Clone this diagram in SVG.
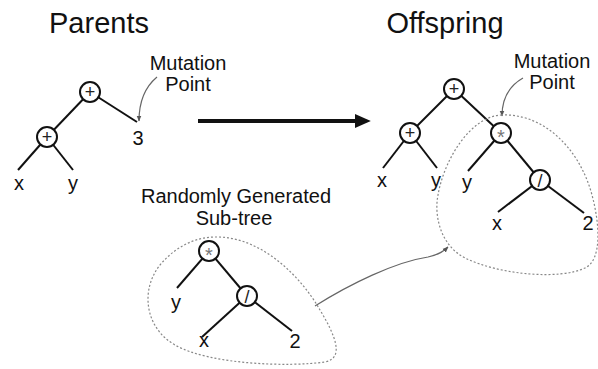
<svg xmlns="http://www.w3.org/2000/svg" width="598" height="369" viewBox="0 0 598 369">
  <defs>
    <style>
      .title { font-family: "Liberation Sans", Arial, sans-serif; font-size: 29px; fill: #111; text-anchor: middle; }
      .label { font-family: "Liberation Sans", Arial, sans-serif; font-size: 20px; fill: #111; text-anchor: middle; }
      .sym { font-family: "Liberation Sans", Arial, sans-serif; font-size: 18px; fill: #222; text-anchor: middle; }
      .star { font-family: "Liberation Sans", Arial, sans-serif; font-size: 20px; fill: #777; text-anchor: middle; }
      .edge { stroke: #111; stroke-width: 2; fill: none; }
      .node { fill: #fff; stroke: #111; stroke-width: 2; }
      .hull { fill: none; stroke: #888; stroke-width: 1.2; stroke-dasharray: 2 2; }
      .pointer { fill: none; stroke: #666; stroke-width: 1.2; }
    </style>
    <marker id="tip" viewBox="0 0 10 10" refX="9" refY="5" markerWidth="6" markerHeight="6" orient="auto" markerUnits="userSpaceOnUse">
      <path d="M0,1 L10,5 L0,9 z" fill="#555"/>
    </marker>
    <marker id="bigtip" viewBox="0 0 10 10" refX="2" refY="5" markerWidth="16" markerHeight="14" orient="auto" markerUnits="userSpaceOnUse" preserveAspectRatio="none">
      <path d="M0,0 L10,5 L0,10 z" fill="#111"/>
    </marker>
  </defs>

  <!-- headings -->
  <text class="title" x="99" y="33">Parents</text>
  <text class="title" x="445" y="33">Offspring</text>

  <!-- connectors -->
  <g id="connectors">
    <!-- parent tree -->
    <line class="edge" x1="90" y1="92" x2="47" y2="137"/>
    <line class="edge" x1="90" y1="92" x2="137" y2="122"/>
    <line class="edge" x1="47" y1="137" x2="18" y2="170"/>
    <line class="edge" x1="47" y1="137" x2="73" y2="170"/>
    <!-- offspring tree -->
    <line class="edge" x1="454" y1="89" x2="410" y2="133"/>
    <line class="edge" x1="454" y1="89" x2="501" y2="133"/>
    <line class="edge" x1="410" y1="133" x2="383" y2="168"/>
    <line class="edge" x1="410" y1="133" x2="437" y2="168"/>
    <line class="edge" x1="501" y1="133" x2="468" y2="171"/>
    <line class="edge" x1="501" y1="133" x2="540" y2="180"/>
    <line class="edge" x1="540" y1="180" x2="498" y2="212"/>
    <line class="edge" x1="540" y1="180" x2="584" y2="213"/>
    <!-- random sub-tree -->
    <line class="edge" x1="209" y1="251" x2="177" y2="288"/>
    <line class="edge" x1="209" y1="251" x2="247" y2="296"/>
    <line class="edge" x1="247" y1="296" x2="202" y2="337"/>
    <line class="edge" x1="247" y1="296" x2="292" y2="331"/>
    <!-- transformation arrow -->
    <line x1="198" y1="121" x2="358" y2="121" stroke="#111" stroke-width="4" marker-end="url(#bigtip)"/>
    <!-- mutation point pointers -->
    <path class="pointer" d="M157,77 Q139,92 139,121" marker-end="url(#tip)"/>
    <path class="pointer" d="M523,78 Q502,90 502,116" marker-end="url(#tip)"/>
    <!-- sub-tree insertion pointer -->
    <path class="pointer" d="M315,306 C350,284 395,262 428,257 C438,255 444,251 448,247" marker-end="url(#tip)"/>
    <!-- dotted hulls -->
    <path class="hull" d="M501,115 C545,113 580,150 592,195 C600,225 602,260 585,268 C560,280 500,275 465,258 C440,245 434,215 438,195 C444,160 470,117 501,115 Z"/>
    <path class="hull" d="M215,237 C260,236 300,275 320,310 C335,335 345,358 325,362 C290,367 210,365 175,345 C145,328 140,290 160,265 C175,247 195,237 215,237 Z"/>
  </g>

  <!-- parent tree nodes -->
  <g id="p-root"><circle class="node" cx="90" cy="92" r="10"/><text class="sym" x="90" y="98.4">+</text></g>
  <g id="p-left"><circle class="node" cx="47" cy="137" r="10"/><text class="sym" x="47" y="143.4">+</text></g>
  <g id="p-x"><text class="label" x="19" y="190">x</text></g>
  <g id="p-y"><text class="label" x="73" y="190">y</text></g>
  <g id="p-3"><text class="label" x="138" y="145">3</text></g>
  <g id="p-mut"><text class="label" x="188" y="70">Mutation</text><text class="label" x="188" y="91">Point</text></g>

  <!-- offspring tree nodes -->
  <g id="o-root"><circle class="node" cx="454" cy="89" r="10"/><text class="sym" x="454" y="95.4">+</text></g>
  <g id="o-left"><circle class="node" cx="410" cy="133" r="10"/><text class="sym" x="410" y="139.4">+</text></g>
  <g id="o-mul"><circle class="node" cx="501" cy="133" r="10"/><text class="star" x="501" y="144.4">*</text></g>
  <g id="o-div"><circle class="node" cx="540" cy="180" r="10"/><text class="sym" x="540" y="186.5">/</text></g>
  <g id="o-x1"><text class="label" x="382" y="187">x</text></g>
  <g id="o-y1"><text class="label" x="436" y="187">y</text></g>
  <g id="o-y2"><text class="label" x="467" y="189">y</text></g>
  <g id="o-x2"><text class="label" x="497" y="230">x</text></g>
  <g id="o-2"><text class="label" x="588" y="230">2</text></g>
  <g id="o-mut"><text class="label" x="552" y="68">Mutation</text><text class="label" x="552" y="89">Point</text></g>

  <!-- random sub-tree nodes -->
  <g id="r-label"><text class="label" x="236" y="203">Randomly Generated</text><text class="label" x="234" y="225">Sub-tree</text></g>
  <g id="r-mul"><circle class="node" cx="209" cy="251" r="10"/><text class="star" x="209" y="262.4">*</text></g>
  <g id="r-div"><circle class="node" cx="247" cy="296" r="10"/><text class="sym" x="247" y="302.5">/</text></g>
  <g id="r-y"><text class="label" x="176" y="309">y</text></g>
  <g id="r-x"><text class="label" x="204" y="347">x</text></g>
  <g id="r-2"><text class="label" x="295" y="348">2</text></g>
</svg>
